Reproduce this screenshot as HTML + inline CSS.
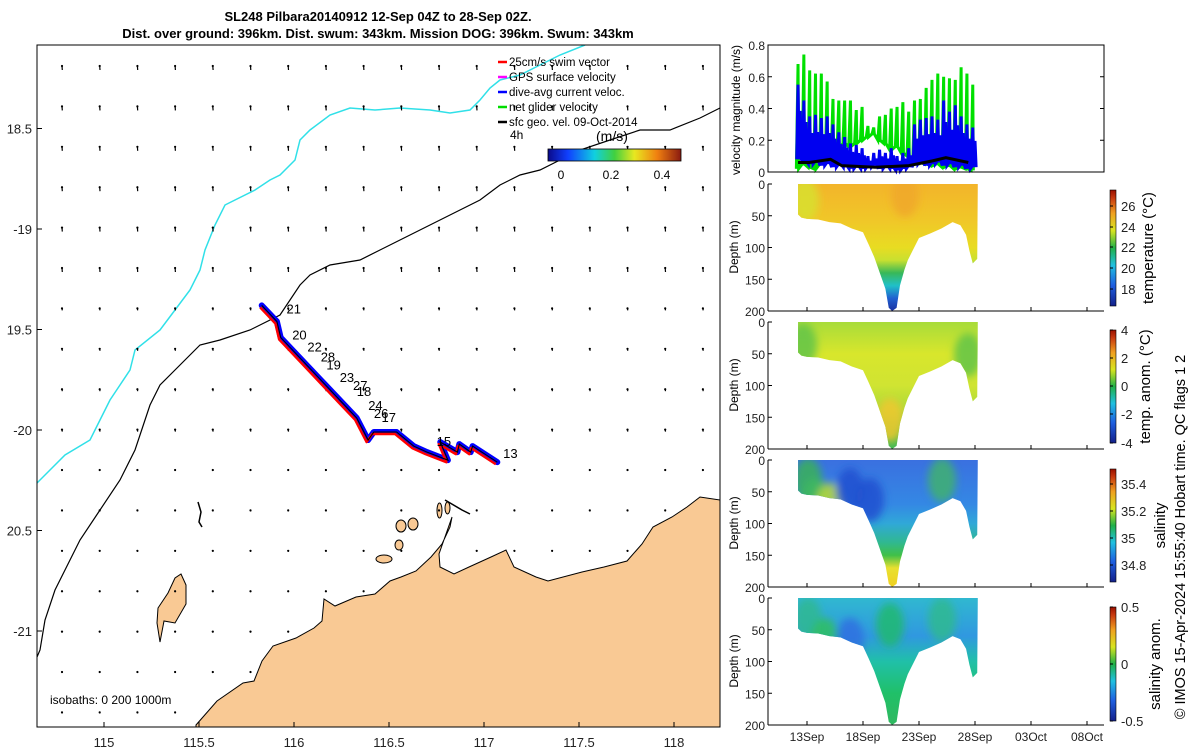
<!DOCTYPE html>
<html><head><meta charset="utf-8"><style>
body{margin:0;background:#fff}
svg{font-family:"Liberation Sans",sans-serif;display:block}
</style></head><body>
<svg id="s" width="1200" height="750" viewBox="0 0 1200 750" xmlns="http://www.w3.org/2000/svg">
<defs>
<linearGradient id="jet" x1="0" y1="1" x2="0" y2="0">
<stop offset="0" stop-color="#14208a"/><stop offset="0.18" stop-color="#1f5fe0"/><stop offset="0.35" stop-color="#20c0e0"/><stop offset="0.5" stop-color="#20b048"/><stop offset="0.65" stop-color="#d8e420"/><stop offset="0.8" stop-color="#f0a020"/><stop offset="0.93" stop-color="#c83a10"/><stop offset="1" stop-color="#9a1000"/></linearGradient>
<linearGradient id="jeth" x1="0" y1="0" x2="1" y2="0">
<stop offset="0" stop-color="#0a0a8a"/><stop offset="0.15" stop-color="#1040ff"/><stop offset="0.35" stop-color="#10d0e0"/><stop offset="0.5" stop-color="#40d040"/><stop offset="0.65" stop-color="#e8e820"/><stop offset="0.82" stop-color="#f08010"/><stop offset="1" stop-color="#8a1a10"/></linearGradient>
<filter id="blur"><feGaussianBlur stdDeviation="4"/></filter>
</defs>
<g id="map"></g>
<g id="right"></g>
</svg>
<script>
// ---------- data ----------
const trackLon=[115.83,115.91,115.93,116.03,116.14,116.24,116.33,116.39,116.42,116.49,116.54,116.63,116.70,116.81,116.77,116.86,116.87,116.93,116.94,117.07];
const trackLat=[-19.38,-19.46,-19.54,-19.64,-19.75,-19.85,-19.94,-20.05,-20.01,-20.01,-20.01,-20.08,-20.11,-20.15,-20.06,-20.11,-20.07,-20.11,-20.08,-20.16];
const dayLabels=["21","20","22","28","19","23","27","18","24","26","17","15","13"];
const dayLon=[115.95,115.98,116.06,116.13,116.16,116.23,116.30,116.32,116.38,116.41,116.45,116.74,117.09];
const dayLat=[-19.42,-19.55,-19.61,-19.66,-19.70,-19.76,-19.80,-19.83,-19.90,-19.94,-19.96,-20.08,-20.14];
const lonTicks=[115,115.5,116,116.5,117,117.5,118];
const latTicks=[-18.5,-19,-19.5,-20,-20.5,-21];
const latTickLabels=["18.5","-19","19.5","-20","20.5","-21"];
// velocity panel (days since 13 Sep)
const greenPeaks=[0.68,0.74,0.64,0.62,0.62,0.57,0.46,0.45,0.45,0.45,0.39,0.41,0.29,0.28,0.35,0.36,0.40,0.41,0.44,0.38,0.45,0.46,0.53,0.58,0.62,0.60,0.59,0.58,0.66,0.62,0.55];
const greenLows=[0.02,0.05,0.03,0.02,0.05,0.10,0.12,0.15,0.18,0.16,0.18,0.20,0.22,0.24,0.20,0.18,0.14,0.16,0.12,0.10,0.08,0.06,0.05,0.04,0.05,0.03,0.04,0.02,0.03,0.02,0.01];
const bluePeaks=[0.55,0.45,0.35,0.36,0.34,0.35,0.30,0.25,0.22,0.18,0.17,0.15,0.10,0.12,0.14,0.12,0.15,0.10,0.12,0.15,0.30,0.33,0.34,0.35,0.33,0.45,0.38,0.42,0.35,0.30,0.28];
const blueLows=[0.08,0.06,0.05,0.06,0.04,0.05,0.03,0.04,0.03,0.02,0.03,0.02,0.03,0.04,0.02,0.03,0.02,0.01,0.02,0.03,0.05,0.06,0.04,0.05,0.06,0.04,0.05,0.03,0.04,0.02,0.03];
const geoDays=[-0.8,0.2,2.1,3.1,6.1,9.1,11.2,12.4,14.4,16.6,19.6,22.1,25.1];
const geoVals=[0.06,0.06,0.08,0.04,0.03,0.04,0.07,0.09,0.06,0.04,0.03,0.03,0.04];
// section bottom depth (m) vs day since 13 Sep
const secDays=[-0.8,-0.5,0,1,2,3,4,5,5.5,6,6.5,7,7.3,7.6,8,8.3,8.7,9,10,11,12,13,13.7,14.2,14.5,14.8,15.2,15.25];
const secDepth=[48,53,55,56,60,62,70,76,95,115,140,165,195,200,195,160,135,120,85,78,70,60,65,80,105,125,118,0];
const dateLabels=["13Sep","18Sep","23Sep","28Sep","03Oct","08Oct"];
const dateDays=[0,5,10,15,20,25];

// ---------- helpers ----------
const NS="http://www.w3.org/2000/svg";
function mk(parent,tag,attrs,text){const e=document.createElementNS(NS,tag);for(const k in attrs)e.setAttribute(k,attrs[k]);if(text!==undefined)e.textContent=text;parent.appendChild(e);return e;}
const map=document.getElementById('map'), right=document.getElementById('right');
const lonX=l=>104+(l-115)*190;
const latY=l=>229+(-19-l)*201;
const MX0=37,MX1=720,MY0=45,MY1=727;

// title
let t=mk(map,'text',{x:378,y:21,'text-anchor':'middle','font-size':13,'font-weight':'bold'},"SL248 Pilbara20140912 12-Sep 04Z to 28-Sep 02Z.");


t=mk(map,'text',{x:378,y:38,'text-anchor':'middle','font-size':13,'font-weight':'bold'},"Dist. over ground: 396km. Dist. swum: 343km. Mission DOG: 396km. Swum: 343km");



// clip
const cp=mk(map,'clipPath',{id:'mapclip'});mk(cp,'rect',{x:MX0,y:MY0,width:MX1-MX0,height:MY1-MY0});
const mg=mk(map,'g',{'clip-path':'url(#mapclip)'});



// land
const landPts=[[196,727],[196,725],[217,701],[243,683],[254,681],[262,661],[273,646],[296,638],[314,628],[322,621],[324,599],[335,606],[356,597],[375,594],[390,581],[401,577],[416,571],[431,557],[442,544],[450,527],[452,517],[446,534],[439,554],[440,567],[454,574],[469,567],[491,557],[506,550],[514,567],[536,577],[548,581],[582,572],[604,567],[627,561],[642,544],[653,527],[672,517],[687,507],[700,497],[720,500],[725,727]];
let land=mk(mg,'polygon',{points:landPts.map(p=>p.join(',')).join(' '),fill:'#f9c994',stroke:'#000','stroke-width':1});


const isl=[[181,574],[186,585],[186,604],[175,623],[164,621],[160,642],[157,623],[158,608],[168,593],[175,578]];
let il=mk(mg,'polygon',{points:isl.map(p=>p.join(',')).join(' '),fill:'#f9c994',stroke:'#000','stroke-width':1});


[[376,555,392,563],[395,540,403,550],[396,520,406,532],[408,518,418,530],[437,503,442,518],[445,502,450,514]].forEach(r=>{
 let e=mk(mg,'ellipse',{cx:(r[0]+r[2])/2,cy:(r[1]+r[3])/2,rx:(r[2]-r[0])/2,ry:(r[3]-r[1])/2,fill:'#f9c994',stroke:'#000','stroke-width':1});
 
 
});
mk(mg,'polyline',{points:'445,500 462,510 470,514',fill:'none',stroke:'#000','stroke-width':1.5});
mk(mg,'polyline',{points:'198,502 201,512 199,522 202,527',fill:'none',stroke:'#000','stroke-width':1.5});

// isobaths
const cyan=[[37,483],[50,470],[65,455],[90,440],[110,400],[120,385],[130,370],[135,350],[160,330],[175,310],[190,290],[200,270],[205,250],[215,225],[225,205],[235,200],[255,190],[270,180],[280,175],[295,160],[300,140],[310,130],[330,115],[350,108],[375,110],[400,108],[430,110],[450,113],[470,110],[480,100],[490,88],[500,80],[520,75],[540,65],[560,55],[585,45]];
let ci=mk(mg,'polyline',{points:cyan.map(p=>p.join(',')).join(' '),fill:'none',stroke:'#30e0e8','stroke-width':1.5});


const blk=[[37,657],[40,650],[45,620],[55,590],[70,560],[80,540],[100,510],[120,480],[135,450],[145,420],[150,405],[160,385],[175,370],[190,355],[200,345],[220,340],[250,330],[280,315],[300,285],[310,275],[330,265],[360,260],[380,250],[400,240],[420,230],[450,215],[480,200],[500,185],[520,175],[540,170],[560,160],[580,150],[610,140],[640,130],[670,130],[700,118],[720,108]];
let bi=mk(mg,'polyline',{points:blk.map(p=>p.join(',')).join(' '),fill:'none',stroke:'#000','stroke-width':1.2});



// quiver grid
function inLand(x,y){
 for(let i=1;i<landPts.length-1;i++){const a=landPts[i],b=landPts[i+1];if(x>=Math.min(a[0],b[0])&&x<=Math.max(a[0],b[0])){const yy=a[1]+(b[1]-a[1])*((x-a[0])/((b[0]-a[0])||1));if(y>yy-3)return true;}}
 return false;}
const qg=mk(mg,'g',{});


for(let r=0;r<17;r++){for(let c=0;c<18;c++){const x=62+c*37.7,y=66+r*40.4;if(inLand(x,y)||x>715)continue;
 const len=r<6?4:(r<10?2:1);
 mk(qg,'line',{x1:x,y1:y,x2:x+0.3,y2:y+len,stroke:'#000','stroke-width':1.2});
 mk(qg,'circle',{cx:x,cy:y,r:1.1,fill:'#000'});}}

// track
const tp=trackLon.map((l,i)=>lonX(l)+','+latY(trackLat[i])).join(' ');
let tb=mk(mg,'polyline',{points:tp,fill:'none',stroke:'#0000ff','stroke-width':6,'stroke-linejoin':'round','stroke-linecap':'round'});


const tpr=trackLon.map((l,i)=>(lonX(l)-1.5)+','+(latY(trackLat[i])+2)).join(' ');
let tr=mk(mg,'polyline',{points:tpr,fill:'none',stroke:'#ff0000','stroke-width':2.5,'stroke-linejoin':'round'});


let tk=mk(mg,'polyline',{points:tp,fill:'none',stroke:'#000','stroke-width':1.1});


dayLabels.forEach((d,i)=>{let e=mk(mg,'text',{x:lonX(dayLon[i])+2,y:latY(dayLat[i]),'font-size':13},d);
 
 });

// frame + ticks
mk(map,'rect',{x:MX0,y:MY0,width:MX1-MX0,height:MY1-MY0,fill:'none',stroke:'#000','stroke-width':1});
lonTicks.forEach(l=>{const x=lonX(l);mk(map,'line',{x1:x,y1:MY1,x2:x,y2:MY1-5,stroke:'#000'});
 let e=mk(map,'text',{x:x,y:747,'text-anchor':'middle','font-size':13,fill:'#222'},String(l));
 
 });
latTicks.forEach((l,i)=>{const y=latY(l);mk(map,'line',{x1:MX0,y1:y,x2:MX0+5,y2:y,stroke:'#000'});
 let e=mk(map,'text',{x:32,y:y+5,'text-anchor':'end','font-size':13,fill:'#222'},latTickLabels[i]);
 
 });
let iso=mk(map,'text',{x:50,y:704,'font-size':12},"isobaths: 0   200  1000m");



// legend
const lg=mk(map,'g',{});


const legT=["25cm/s swim vector","GPS surface velocity","dive-avg current veloc.","net glider velocity","sfc geo. vel. 09-Oct-2014"];
const legC=["#ff0000","#ff00ff","#0000ff","#00dd00","#000"];
legT.forEach((s,i)=>{const y=66+i*15;mk(lg,'line',{x1:498,y1:y-4,x2:507,y2:y-4,stroke:legC[i],'stroke-width':2.5});
 let e=mk(lg,'text',{x:509,y:y,'font-size':11.5},s);
 
 });
mk(lg,'text',{x:510,y:139,'font-size':12},"4h");
mk(lg,'text',{x:596,y:141,'font-size':14},"(m/s)");
let cb=mk(lg,'rect',{x:548,y:149,width:133,height:12,fill:'url(#jeth)',stroke:'#000','stroke-width':0.8});


[[561,"0"],[611,"0.2"],[662,"0.4"]].forEach(a=>mk(lg,'text',{x:a[0],y:179,'text-anchor':'middle','font-size':12},a[1]));

// ---------- right panels ----------
const PX0=768,PX1=1104;
const dX=d=>807+d*11.2;
const VY0=45,VY1=172;const vY=v=>VY1-v/0.8*(VY1-VY0);
const vp=mk(right,'g',{});


const n=greenPeaks.length;const tAt=i=>-0.8+i*(15.6/(n-1));
let gp=[],bp=[];
for(let i=0;i<n;i++){const t0=tAt(i);gp.push(dX(t0-0.15)+','+vY(greenLows[i]),dX(t0)+','+vY(greenPeaks[i]),dX(t0+0.05)+','+vY(greenLows[i]));
 bp.push(dX(t0-0.12)+','+vY(blueLows[i]),dX(t0)+','+vY(bluePeaks[i]),dX(t0+0.1)+','+vY(blueLows[i]),dX(t0+0.2)+','+vY(bluePeaks[i]*0.7),dX(t0+0.3)+','+vY(blueLows[i]));}
let gl=mk(vp,'polyline',{points:gp.join(' '),fill:'none',stroke:'#00e000','stroke-width':3});


let bl=mk(vp,'polyline',{points:bp.join(' '),fill:'none',stroke:'#0000f0','stroke-width':3});


let kl=mk(vp,'polyline',{points:geoDays.filter(d=>d<=15.2).map((d,i)=>dX(d)+','+vY(geoVals[i])).join(' '),fill:'none',stroke:'#000','stroke-width':3});


mk(vp,'rect',{x:PX0,y:VY0,width:PX1-PX0,height:VY1-VY0,fill:'none',stroke:'#000'});
[0,0.2,0.4,0.6,0.8].forEach(v=>{const y=vY(v);mk(vp,'line',{x1:PX0,y1:y,x2:PX0+4,y2:y,stroke:'#000'});mk(vp,'line',{x1:PX1,y1:y,x2:PX1-4,y2:y,stroke:'#000'});
 mk(vp,'text',{x:765,y:y+5,'text-anchor':'end','font-size':12,fill:'#222'},String(v));});
let vyl=mk(vp,'text',{transform:'translate(740,110) rotate(-90)','text-anchor':'middle','font-size':12},"velocity magnitude (m/s)");



// section panels
const panels=[
 {y0:184,name:'temperature',label:'temperature (°C)',lx:1153,stops:[[0,'#f3b42a'],[0.3,'#f0c828'],[0.5,'#e8dc22'],[0.6,'#c8e030'],[0.7,'#38b858'],[0.8,'#20c0c8'],[0.9,'#2060d0'],[1,'#1a30a0']],
  cb:[190,306],ticks:[["26",206],["24",227],["22",247],["20",268],["18",289]],
  blobs:[[805,200,'#d8e030'],[905,195,'#f0a828']]},
 {y0:322,name:'temperature-anomaly',label:'temp. anom. (°C)',lx:1150,stops:[[0,'#a8dc3a'],[0.25,'#d8e62c'],[0.5,'#d0e432'],[0.7,'#a8da3a'],[0.85,'#50c048'],[1,'#40b858']],
  cb:[330,443],ticks:[["4",330],["2",358],["0",386],["-2",414],["-4",443]],
  blobs:[[803,345,'#60c448'],[968,355,'#60c448'],[890,420,'#f0c830']]},
 {y0:460,name:'salinity',label:'salinity',lx:1165,stops:[[0,'#3a70e0'],[0.35,'#3488e4'],[0.5,'#30a8d8'],[0.65,'#30b890'],[0.75,'#40c048'],[0.85,'#e8e030'],[1,'#f0d020']],
  cb:[469,582],ticks:[["35.4",484],["35.2",511],["35",538],["34.8",565]],
  blobs:[[808,480,'#38b058'],[815,500,'#40b860'],[830,505,'#b8d838'],[942,480,'#40b070'],[850,490,'#2050d0'],[870,500,'#2050d0']]},
 {y0:598,name:'salinity-anomaly',label:'salinity anom.',lx:1160,stops:[[0,'#30b8d0'],[0.3,'#3098e0'],[0.5,'#20c0a8'],[0.75,'#20c068'],[1,'#30b860']],
  cb:[607,721],ticks:[["0.5",607],["0",664],["-0.5",721]],
  blobs:[[808,620,'#30b890'],[825,640,'#30c060'],[890,625,'#20b870'],[850,640,'#3070e0'],[942,620,'#30b890']]}
];
panels.forEach((p,pi)=>{
 const H=127,y0=p.y0,y1=y0+H;const dY=d=>y0+d/200*H;
 const g=mk(right,'g',{});
 
 
 const gid='vg'+pi;const lgd=mk(g,'linearGradient',{id:gid,x1:0,y1:y0,x2:0,y2:y1,gradientUnits:'userSpaceOnUse'});
 p.stops.forEach(s=>mk(lgd,'stop',{offset:s[0],'stop-color':s[1]}));
 let pts=[dX(secDays[0])+','+dY(0)];secDays.forEach((d,i)=>pts.push(dX(d)+','+dY(secDepth[i])));pts.push(dX(secDays[secDays.length-1])+','+dY(0));
 const cpid='sc'+pi;const c=mk(g,'clipPath',{id:cpid});mk(c,'polygon',{points:pts.join(' ')});
 const sg=mk(g,'g',{'clip-path':'url(#'+cpid+')'});
 mk(sg,'rect',{x:790,y:y0,width:200,height:H,fill:'url(#'+gid+')'});
 const bg=mk(sg,'g',{filter:'url(#blur)'});
 p.blobs.forEach(b=>mk(bg,'ellipse',{cx:b[0],cy:b[1],rx:14,ry:22,fill:b[2],opacity:0.85}));
 mk(g,'line',{x1:PX0,y1:y0,x2:PX0,y2:y1,stroke:'#000'});mk(g,'line',{x1:PX0,y1:y1,x2:PX1,y2:y1,stroke:'#000'});
 [0,50,100,150,200].forEach(d=>{const y=dY(d);mk(g,'line',{x1:PX0,y1:y,x2:PX0+4,y2:y,stroke:'#000'});
  mk(g,'text',{x:765,y:y+5,'text-anchor':'end','font-size':12,fill:'#222'},String(d));});
 dateDays.forEach(d=>mk(g,'line',{x1:dX(d),y1:y1,x2:dX(d),y2:y1-4,stroke:'#000'}));
 let yl=mk(g,'text',{transform:'translate(738,'+(y0+63)+') rotate(-90)','text-anchor':'middle','font-size':12},"Depth (m)");
 
 
 let cbr=mk(g,'rect',{x:1110,y:p.cb[0],width:6,height:p.cb[1]-p.cb[0],fill:'url(#jet)',stroke:'#000','stroke-width':0.6});
 
 
 p.ticks.forEach(tk=>{mk(g,'line',{x1:1110,y1:tk[1],x2:1113,y2:tk[1],stroke:'#000'});mk(g,'text',{x:1121,y:tk[1]+5,'font-size':13,fill:'#222'},tk[0]);});
 let cl=mk(g,'text',{transform:'translate('+p.lx+','+((p.cb[0]+p.cb[1])/2)+') rotate(-90)','text-anchor':'middle','font-size':15},p.label);
 
 
});
dateLabels.forEach((s,i)=>{let e=mk(right,'text',{x:dX(dateDays[i]),y:741,'text-anchor':'middle','font-size':12,fill:'#222'},s);
 
 });
let cr=mk(right,'text',{transform:'translate(1185,537) rotate(-90)','text-anchor':'middle','font-size':14.5},"© IMOS 15-Apr-2024 15:55:40 Hobart time. QC flags 1  2");


</script>
</body></html>
